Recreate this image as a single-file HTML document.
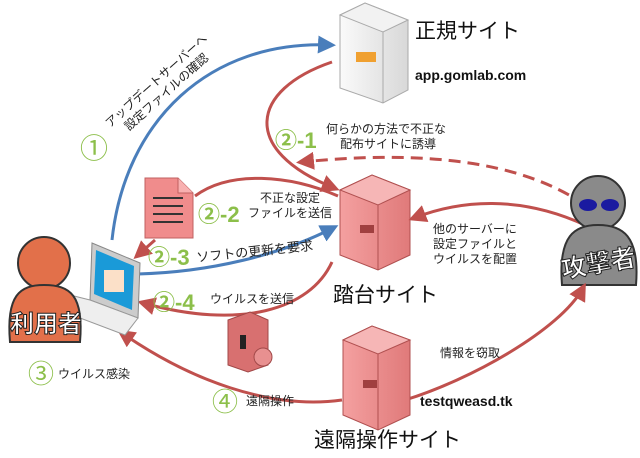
<!DOCTYPE html>
<html><head><meta charset="utf-8">
<style>
html,body{margin:0;padding:0;background:#fff;}
svg{display:block;font-family:"Liberation Sans","Noto Sans CJK JP",sans-serif;}
</style></head>
<body>
<svg width="640" height="458" viewBox="0 0 640 458" xmlns="http://www.w3.org/2000/svg">
<defs>
<marker id="ar" markerWidth="6" markerHeight="6" refX="4" refY="3" orient="auto" markerUnits="strokeWidth"><path d="M0,0 L6,3 L0,6 z" fill="#c0504d"/></marker>
<marker id="ab" markerWidth="6" markerHeight="6" refX="4" refY="3" orient="auto" markerUnits="strokeWidth"><path d="M0,0 L6,3 L0,6 z" fill="#4a7ebb"/></marker>
<linearGradient id="pk" x1="0" x2="1"><stop offset="0" stop-color="#f4a0a0"/><stop offset="1" stop-color="#e07a7a"/></linearGradient>
<linearGradient id="gy" x1="0" x2="1"><stop offset="0" stop-color="#fafafa"/><stop offset="1" stop-color="#d8d8d8"/></linearGradient>
</defs>

<!-- legit server -->
<polygon points="340,15 365,3 408,20 408,90 383,103 340,88" fill="url(#gy)" stroke="#aaa"/>
<polygon points="340,15 365,3 408,20 383,32" fill="#f2f2f2" stroke="#aaa"/>
<line x1="383" y1="32" x2="383" y2="103" stroke="#aaa"/>
<rect x="356" y="52" width="20" height="10" fill="#f0a030"/>
<text x="415" y="38" font-size="21" fill="#111">正規サイト</text>
<text x="415" y="80" font-size="14" font-weight="bold" fill="#111">app.gomlab.com</text>

<!-- blue ① -->
<path d="M112,240 C125,120 210,40 330,45" fill="none" stroke="#4a7ebb" stroke-width="3" marker-end="url(#ab)"/>
<text x="80" y="158" font-size="28" fill="#8cbf4a">①</text>
<g transform="translate(110,128) rotate(-42)">
<text x="0" y="0" font-size="12" fill="#222">アップデートサーバーへ</text>
<text x="12" y="15" font-size="12" fill="#222">設定ファイルの確認</text>
</g>

<!-- red loop ②-1 -->
<path d="M332,62 C250,90 240,150 334,188" fill="none" stroke="#c0504d" stroke-width="3" marker-end="url(#ar)"/>
<path d="M585,205 C520,160 420,150 302,162" fill="none" stroke="#c0504d" stroke-width="3" stroke-dasharray="12,7" marker-end="url(#ar)"/>
<text x="275" y="148" font-size="22" font-weight="bold" fill="#8cbf4a">②-1</text>
<text x="326" y="133" font-size="12" fill="#222">何らかの方法で不正な</text>
<text x="340" y="148" font-size="12" fill="#222">配布サイトに誘導</text>

<!-- document -->
<path d="M145,178 L178,178 L193,193 L193,238 L145,238 z" fill="#f08c8c" stroke="#c06060"/>
<path d="M178,178 L178,193 L193,193" fill="#f8b0b0" stroke="#c06060"/>
<g stroke="#333" stroke-width="2"><line x1="153" y1="198" x2="183" y2="198"/><line x1="153" y1="206" x2="183" y2="206"/><line x1="153" y1="214" x2="183" y2="214"/><line x1="153" y1="222" x2="183" y2="222"/></g>
<path d="M338,196 C290,175 230,170 195,196" fill="none" stroke="#c0504d" stroke-width="3"/>
<path d="M155,240 L138,255" fill="none" stroke="#c0504d" stroke-width="3" marker-end="url(#ar)"/>
<text x="198" y="222" font-size="22" font-weight="bold" fill="#8cbf4a">②-2</text>
<text x="260" y="202" font-size="12" fill="#222">不正な設定</text>
<text x="248" y="217" font-size="12" fill="#222">ファイルを送信</text>

<!-- blue ②-3 -->
<path d="M138,274 C210,272 280,255 333,228" fill="none" stroke="#4a7ebb" stroke-width="3" marker-end="url(#ab)"/>
<text x="148" y="265" font-size="22" font-weight="bold" fill="#8cbf4a">②-3</text>
<text x="197" y="262" font-size="13" fill="#222" transform="rotate(-6 197 262)">ソフトの更新を要求</text>

<!-- 踏台 server -->
<polygon points="340,190 372,175 410,190 410,255 378,270 340,255" fill="url(#pk)" stroke="#b05050"/>
<polygon points="340,190 372,175 410,190 378,205" fill="#f6b6b6" stroke="#b05050"/>
<line x1="378" y1="205" x2="378" y2="270" stroke="#b05050"/>
<rect x="360" y="225" width="14" height="8" fill="#a04040"/>
<text x="333" y="302" font-size="21" fill="#111">踏台サイト</text>

<!-- ②-4 -->
<path d="M332,262 C310,310 240,330 143,303" fill="none" stroke="#c0504d" stroke-width="3" marker-end="url(#ar)"/>
<text x="153" y="310" font-size="22" font-weight="bold" fill="#8cbf4a">②-4</text>
<text x="210" y="303" font-size="12" fill="#222">ウイルスを送信</text>
<polygon points="228,320 250,312 268,320 268,365 248,372 228,365" fill="#d87070" stroke="#a04848"/>
<circle cx="263" cy="357" r="9" fill="#e89090" stroke="#a04848"/>
<rect x="240" y="335" width="6" height="14" fill="#222"/>

<!-- attacker -->
<path d="M585,225 C520,195 460,200 414,218" fill="none" stroke="#c0504d" stroke-width="3" marker-end="url(#ar)"/>
<text x="433" y="233" font-size="12" fill="#222">他のサーバーに</text>
<text x="433" y="248" font-size="12" fill="#222">設定ファイルと</text>
<text x="433" y="263" font-size="12" fill="#222">ウイルスを配置</text>
<circle cx="598" cy="203" r="27" fill="#8a8a8a" stroke="#333" stroke-width="2"/>
<path d="M562,285 C558,235 575,225 598,225 C622,225 640,235 636,285 z" fill="#8a8a8a" stroke="#333" stroke-width="2"/>
<ellipse cx="588" cy="205" rx="9" ry="6" fill="#1a1aa0"/><ellipse cx="610" cy="205" rx="9" ry="6" fill="#1a1aa0"/>
<text x="560" y="272" font-size="25" font-weight="bold" fill="#fff" stroke="#222" stroke-width="1" transform="rotate(-10 598 258)">攻撃者</text>

<!-- remote server -->
<path d="M405,400 C470,380 560,330 583,288" fill="none" stroke="#c0504d" stroke-width="3" marker-end="url(#ar)"/>
<text x="440" y="357" font-size="12" fill="#222">情報を窃取</text>
<path d="M342,400 C270,410 190,380 122,333" fill="none" stroke="#c0504d" stroke-width="3" marker-end="url(#ar)"/>
<polygon points="343,340 372,326 410,340 410,415 378,430 343,415" fill="url(#pk)" stroke="#b05050"/>
<polygon points="343,340 372,326 410,340 378,354" fill="#f6b6b6" stroke="#b05050"/>
<line x1="378" y1="354" x2="378" y2="430" stroke="#b05050"/>
<rect x="363" y="380" width="14" height="8" fill="#a04040"/>
<text x="420" y="406" font-size="14" font-weight="bold" fill="#111">testqweasd.tk</text>
<text x="314" y="447" font-size="21" fill="#111">遠隔操作サイト</text>
<text x="212" y="411" font-size="26" fill="#8cbf4a">④</text>
<text x="246" y="405" font-size="12" fill="#222">遠隔操作</text>

<!-- laptop -->
<polygon points="92,243 140,263 138,318 90,300" fill="#ccc" stroke="#888"/>
<polygon points="96,250 134,266 132,310 94,294" fill="#1a9ad8"/>
<polygon points="70,295 90,300 138,318 125,335 80,318" fill="#eee" stroke="#999"/>
<rect x="104" y="270" width="20" height="22" fill="#fbe0c8"/>

<!-- user -->
<circle cx="44" cy="263" r="26" fill="#e2704a" stroke="#333" stroke-width="2"/>
<path d="M10,342 C6,295 20,285 44,285 C70,285 84,295 80,342 z" fill="#e2704a" stroke="#333" stroke-width="2"/>
<text x="10" y="332" font-size="24" font-weight="bold" fill="#fff" stroke="#222" stroke-width="1">利用者</text>
<text x="28" y="383" font-size="26" fill="#8cbf4a">③</text>
<text x="58" y="378" font-size="12" fill="#222">ウイルス感染</text>
</svg>
</body></html>
